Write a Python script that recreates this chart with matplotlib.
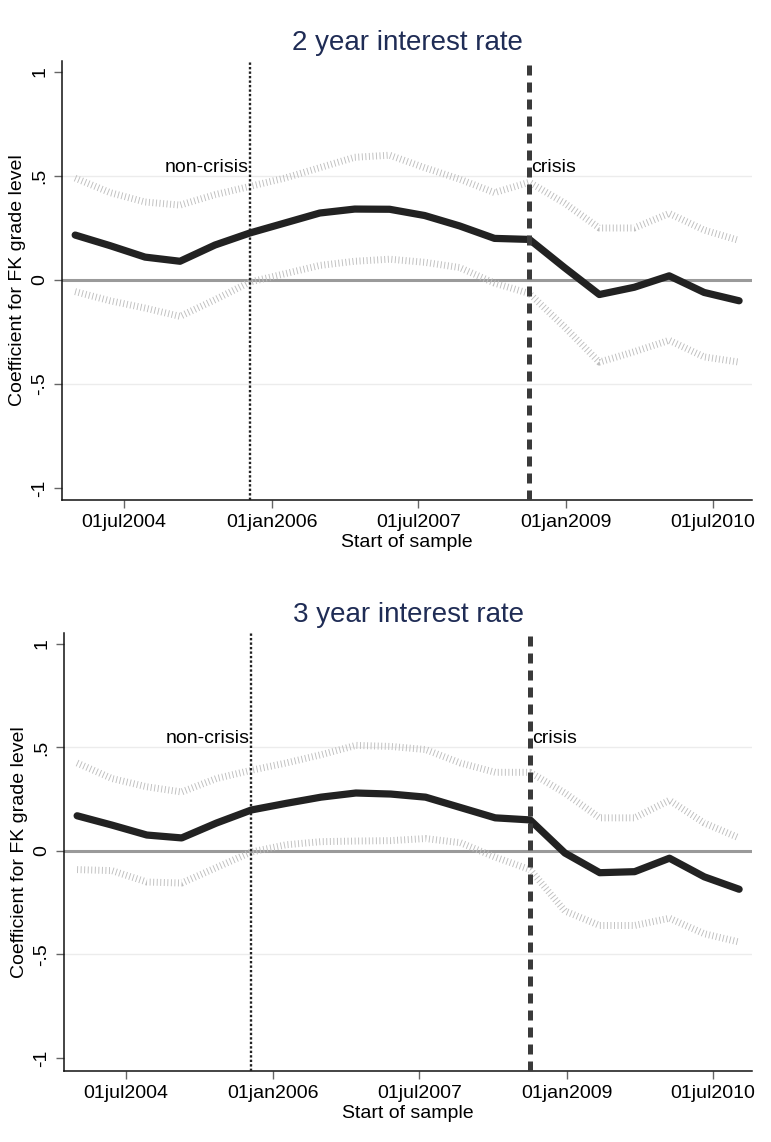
import numpy as np
import pandas as pd
import matplotlib
matplotlib.use('Agg')
import matplotlib.pyplot as plt
import matplotlib.dates as mdates

plt.rcParams['font.family'] = ['Liberation Sans', 'DejaVu Sans']

# start dates of each rolling sample
start_dates = ['2004-01-01', '2004-05-10', '2004-09-17', '2005-01-25', '2005-06-04',
               '2005-10-12', '2006-02-19', '2006-06-29', '2006-11-06', '2007-03-16',
               '2007-07-24', '2007-12-01', '2008-04-09', '2008-08-17', '2008-12-25',
               '2009-05-04', '2009-09-11', '2010-01-19', '2010-05-29', '2010-10-06']

# 2 year interest rate
coef_2y = [0.216, 0.165, 0.11, 0.09, 0.168, 0.226, 0.274, 0.322, 0.341, 0.34,
           0.31, 0.26, 0.20, 0.195, 0.06, -0.07, -0.035, 0.02, -0.06, -0.10]
upper_2y = [0.49, 0.42, 0.375, 0.36, 0.41, 0.45, 0.49, 0.54, 0.59, 0.60,
            0.54, 0.485, 0.42, 0.47, 0.37, 0.25, 0.25, 0.32, 0.24, 0.19]
lower_2y = [-0.056, -0.10, -0.135, -0.175, -0.095, -0.01, 0.03, 0.07, 0.09, 0.10,
            0.085, 0.06, -0.015, -0.065, -0.225, -0.395, -0.345, -0.29, -0.37, -0.395]

# 3 year interest rate
coef_3y = [0.17, 0.125, 0.077, 0.063, 0.135, 0.198, 0.23, 0.26, 0.28, 0.275,
           0.26, 0.21, 0.16, 0.15, -0.01, -0.105, -0.10, -0.035, -0.125, -0.185]
upper_3y = [0.425, 0.35, 0.31, 0.285, 0.35, 0.39, 0.425, 0.465, 0.51, 0.505,
            0.49, 0.425, 0.38, 0.38, 0.28, 0.16, 0.16, 0.245, 0.135, 0.063]
lower_3y = [-0.09, -0.095, -0.15, -0.155, -0.08, -0.005, 0.03, 0.045, 0.048, 0.05,
            0.06, 0.04, -0.03, -0.09, -0.29, -0.36, -0.36, -0.325, -0.40, -0.44]

titles = ['2 year interest rate', '3 year interest rate']
noncrisis_date = '2005-10-12'
crisis_date = '2008-08-17'
xtick_dates = ['2004-07-01', '2006-01-01', '2007-07-01', '2009-01-01', '2010-07-01']
xtick_labels = ['01jul2004', '01jan2006', '01jul2007', '01jan2009', '01jul2010']
ytick_vals = [-1, -0.5, 0, 0.5, 1]
ytick_labels = ['-1', '-.5', '0', '.5', '1']

dates = pd.to_datetime(start_dates)
title_color = '#1f2c55'


def draw_panel(ax, coef, upper, lower, title, ylim):
    ax.axhline(0, color='#9a9a9a', lw=2.2, zorder=1)
    for v in (-0.5, 0.5):
        ax.axhline(v, color='#ececec', lw=1.0, zorder=0)

    # confidence bounds: thick dotted band of thin strokes
    ci_style = dict(color='#bebebe', lw=5, linestyle=(0, (0.13, 0.38)),
                    dash_capstyle='butt', solid_joinstyle='round', zorder=2)
    ax.plot(dates, upper, **ci_style)
    ax.plot(dates, lower, **ci_style)
    ax.plot(dates, coef, color='#222222', lw=5.2, solid_joinstyle='round',
            solid_capstyle='round', zorder=3)

    nc = pd.Timestamp(noncrisis_date)
    cr = pd.Timestamp(crisis_date)
    ax.axvline(nc, color='#222222', lw=1.7, linestyle=(0, (1.0, 0.9)), zorder=4)
    ax.axvline(cr, color='#3a3a3a', lw=3.6, linestyle=(0, (2.0, 1.4)), zorder=4)
    ax.text(nc - pd.Timedelta(days=5), 0.5, 'non-crisis', ha='right', va='bottom', fontsize=14)
    ax.text(cr + pd.Timedelta(days=8), 0.5, 'crisis', ha='left', va='bottom', fontsize=14)

    ax.set_xlim(pd.Timestamp('2003-11-13'), pd.Timestamp('2010-11-23'))
    ax.set_ylim(*ylim)
    ax.set_xticks(pd.to_datetime(xtick_dates))
    ax.set_xticklabels(xtick_labels, fontsize=14)
    ax.set_yticks(ytick_vals)
    ax.set_yticklabels(ytick_labels, fontsize=14, rotation=90, va='center')
    ax.tick_params(axis='both', length=6, width=1, color='#666666', pad=4)

    for side in ('top', 'right'):
        ax.spines[side].set_visible(False)
    for side in ('left', 'bottom'):
        ax.spines[side].set_linewidth(1.1)
        ax.spines[side].set_color('#111111')

    ax.set_title(title, fontsize=20, color=title_color, pad=8)
    ax.set_xlabel('Start of sample', fontsize=14, labelpad=2)
    ax.set_ylabel('Coefficient for FK grade level', fontsize=14, labelpad=4)


fig = plt.figure(figsize=(7.71, 11.42), dpi=100)
W, H = 771, 1142
ax1 = fig.add_axes([62 / W, (H - 500) / H, 690 / W, 439 / H])
ax2 = fig.add_axes([64 / W, (H - 1071) / H, 688 / W, 438 / H])

draw_panel(ax1, coef_2y, upper_2y, lower_2y, titles[0], (-1.058, 1.053))
draw_panel(ax2, coef_3y, upper_3y, lower_3y, titles[1], (-1.063, 1.053))

fig.savefig('out.png', dpi=100, facecolor='white')
